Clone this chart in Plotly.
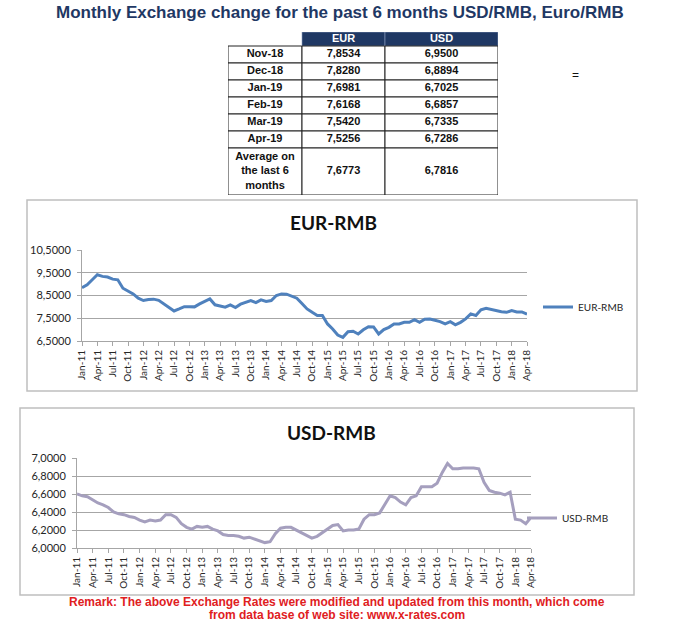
import plotly.graph_objects as go
import pandas as pd
import numpy as np

# ---------------- data ----------------
table_header = ["", "EUR", "USD"]
table_months = ["Nov-18", "Dec-18", "Jan-19", "Feb-19", "Mar-19", "Apr-19", "Average on<br>the last 6<br>months"]
table_eur = ["7,8534", "7,8280", "7,6981", "7,6168", "7,5420", "7,5256", "7,6773"]
table_usd = ["6,9500", "6,8894", "6,7025", "6,6857", "6,7335", "6,7286", "6,7816"]

months = [d.strftime("%b-%y") for d in pd.date_range("2011-01-01", "2018-04-01", freq="MS")]

eur_rmb = [8.84, 8.97, 9.19, 9.41, 9.34, 9.31, 9.22, 9.19, 8.82, 8.69, 8.57, 8.38,
           8.28, 8.32, 8.34, 8.29, 8.13, 7.97, 7.82, 7.91, 8.01, 8.01, 8.00, 8.13,
           8.25, 8.35, 8.09, 8.04, 7.99, 8.09, 7.97, 8.12, 8.21, 8.28, 8.19, 8.31,
           8.24, 8.28, 8.50, 8.57, 8.56, 8.46, 8.38, 8.15, 7.91, 7.76, 7.62, 7.62,
           7.25, 7.03, 6.76, 6.66, 6.91, 6.93, 6.81, 6.99, 7.13, 7.12, 6.81, 7.00,
           7.10, 7.25, 7.25, 7.32, 7.32, 7.44, 7.32, 7.46, 7.47, 7.41, 7.35, 7.25,
           7.35, 7.21, 7.32, 7.47, 7.69, 7.62, 7.87, 7.94, 7.88, 7.84, 7.79, 7.76,
           7.84, 7.78, 7.78, 7.68]

usd_rmb = [6.60, 6.58, 6.57, 6.53, 6.50, 6.48, 6.45, 6.40, 6.38, 6.37, 6.35, 6.34,
           6.31, 6.29, 6.31, 6.30, 6.31, 6.37, 6.37, 6.34, 6.27, 6.23, 6.21, 6.24,
           6.23, 6.24, 6.21, 6.19, 6.15, 6.14, 6.14, 6.13, 6.11, 6.12, 6.10, 6.08,
           6.06, 6.07, 6.16, 6.22, 6.23, 6.23, 6.20, 6.17, 6.14, 6.11, 6.13, 6.17,
           6.21, 6.25, 6.26, 6.19, 6.20, 6.20, 6.21, 6.32, 6.37, 6.37, 6.39, 6.48,
           6.58, 6.56, 6.51, 6.48, 6.56, 6.58, 6.68, 6.68, 6.68, 6.72, 6.84, 6.94,
           6.88, 6.88, 6.89, 6.89, 6.89, 6.88, 6.73, 6.64, 6.62, 6.61, 6.59, 6.62,
           6.32, 6.31, 6.27, 6.34]

eur_ticks = [6.5, 7.5, 8.5, 9.5, 10.5]
eur_ticktext = ["6,5000", "7,5000", "8,5000", "9,5000", "10,5000"]
usd_ticks = [6.0, 6.2, 6.4, 6.6, 6.8, 7.0]
usd_ticktext = ["6,0000", "6,2000", "6,4000", "6,6000", "6,8000", "7,0000"]

# ---------------- style ----------------
W, H = 680, 624
def px(x):
    return x / W
def py(y):
    return 1 - y / H

NAVY = "#1F3864"
EUR_COLOR = "#4F81BD"
USD_COLOR = "#A59FBE"
GRID = "#A6A6A6"
TXT = "#262626"
FONT = "Liberation Sans, Arial, sans-serif"
CAL = "Lato, Liberation Sans, sans-serif"

# table geometry (style): column widths and row heights in table units
col_w = [74, 83, 113]
row_h = [14] + [17] * 6 + [47]
col_edges = np.concatenate([[0], np.cumsum(col_w)])
row_edges = np.concatenate([[0], np.cumsum(row_h)])

fig = go.Figure()

# ---- table drawn on its own hidden axis pair ----
columns = [table_months, table_eur, table_usd]
shapes = []
tx, ty, tt, tc = [], [], [], []
for c in range(3):
    x0, x1 = col_edges[c], col_edges[c + 1]
    if c > 0:
        shapes.append(dict(type="rect", xref="x3", yref="y3", x0=x0, x1=x1,
                           y0=row_edges[0], y1=row_edges[1],
                           fillcolor=NAVY, line=dict(color="#8EA0C0", width=0.6), layer="below"))
        tx.append((x0 + x1) / 2); ty.append((row_edges[0] + row_edges[1]) / 2)
        tt.append(f"<b>{table_header[c]}</b>"); tc.append("white")
    for r, val in enumerate(columns[c]):
        y0, y1 = row_edges[r + 1], row_edges[r + 2]
        shapes.append(dict(type="rect", xref="x3", yref="y3", x0=x0, x1=x1, y0=y0, y1=y1,
                           fillcolor="white", line=dict(color="#222222", width=1), layer="below"))
        tx.append((x0 + x1) / 2); ty.append((y0 + y1) / 2)
        tt.append(f"<b>{val}</b>"); tc.append("#111111")

fig.add_trace(go.Scatter(x=tx, y=ty, text=tt, mode="text", textposition="middle center",
                         textfont=dict(size=11, color=tc, family=FONT),
                         xaxis="x3", yaxis="y3", showlegend=False, hoverinfo="skip"))

# ---- line charts ----
fig.add_trace(go.Scatter(x=months, y=eur_rmb, mode="lines", name="EUR-RMB",
                         line=dict(color=EUR_COLOR, width=3),
                         xaxis="x", yaxis="y", legend="legend"))
fig.add_trace(go.Scatter(x=months, y=usd_rmb, mode="lines", name="USD-RMB",
                         line=dict(color=USD_COLOR, width=3),
                         xaxis="x2", yaxis="y2", legend="legend2"))

xcommon = dict(type="category", categoryorder="array", categoryarray=months,
               tickvals=months[::3], ticktext=months[::3], tickangle=-90,
               range=[0, len(months) - 1], automargin=False,
               tickfont=dict(size=10, color=TXT, family=CAL),
               showgrid=False, showline=True, linecolor=GRID, linewidth=1,
               ticks="outside", ticklen=4, tickcolor=GRID, zeroline=False)
ycommon = dict(showgrid=True, gridcolor=GRID, gridwidth=1, showline=True,
               linecolor=GRID, linewidth=1, ticks="outside", ticklen=4,
               tickcolor=GRID, zeroline=False, ticklabelstandoff=4, automargin=False,
               tickfont=dict(size=11, color=TXT, family=CAL))

fig.update_layout(
    width=W, height=H, autosize=False, margin=dict(l=0, r=0, t=0, b=0, pad=0),
    paper_bgcolor="white", plot_bgcolor="white",
    xaxis=dict(domain=[px(82), px(527)], anchor="y", **xcommon),
    yaxis=dict(domain=[py(341), py(250)], anchor="x", range=[6.5, 10.5],
               tickvals=eur_ticks, ticktext=eur_ticktext, **ycommon),
    xaxis2=dict(domain=[px(77), px(531)], anchor="y2", **xcommon),
    yaxis2=dict(domain=[py(548), py(458)], anchor="x2", range=[6.0, 7.0],
                tickvals=usd_ticks, ticktext=usd_ticktext, **ycommon),
    xaxis3=dict(domain=[px(228), px(498)], anchor="y3", range=[0, col_edges[-1]],
                visible=False, fixedrange=True, automargin=False),
    yaxis3=dict(domain=[py(32 + row_edges[-1]), py(32)], anchor="x3",
                range=[row_edges[-1], 0], visible=False, fixedrange=True, automargin=False),
    legend=dict(x=px(538), y=py(307), xanchor="left", yanchor="middle",
                font=dict(size=10, color=TXT, family=CAL),
                bgcolor="rgba(0,0,0,0)", itemwidth=30),
    legend2=dict(x=px(522), y=py(518), xanchor="left", yanchor="middle",
                 font=dict(size=10, color=TXT, family=CAL),
                 bgcolor="rgba(0,0,0,0)", itemwidth=30),
    showlegend=True,
    shapes=shapes,
)

# chart frames
fig.add_shape(type="rect", xref="paper", yref="paper",
              x0=px(27), x1=px(637), y0=py(391), y1=py(200),
              line=dict(color="#BFBFBF", width=1.5), layer="below")
fig.add_shape(type="rect", xref="paper", yref="paper",
              x0=px(20), x1=px(634), y0=py(595), y1=py(408),
              line=dict(color="#BFBFBF", width=1.5), layer="below")

annos = [
    dict(x=px(340), y=py(12), text="<b>Monthly Exchange change for the past 6 months USD/RMB, Euro/RMB</b>",
         font=dict(size=17, color=NAVY, family=FONT)),
    dict(x=px(575), y=py(75), text="=", font=dict(size=12, color="#111111", family=FONT)),
    dict(x=px(333), y=py(222), text="<b>EUR-RMB</b>", font=dict(size=19, color="#111111", family=CAL)),
    dict(x=px(331), y=py(432), text="<b>USD-RMB</b>", font=dict(size=19, color="#111111", family=CAL)),
    dict(x=px(337), y=py(602), text="<b>Remark: The above Exchange Rates were modified and updated from this month, which come</b>",
         font=dict(size=12, color="#E0201E", family=FONT)),
    dict(x=px(337), y=py(615), text="<b>from data base of web site: www.x-rates.com</b>",
         font=dict(size=12, color="#E0201E", family=FONT)),
]
for a in annos:
    fig.add_annotation(xref="paper", yref="paper", showarrow=False,
                       xanchor="center", yanchor="middle", **a)

fig.write_html("out.html", config={"displayModeBar": False, "responsive": False},
               post_script="document.body.style.margin='0';")
